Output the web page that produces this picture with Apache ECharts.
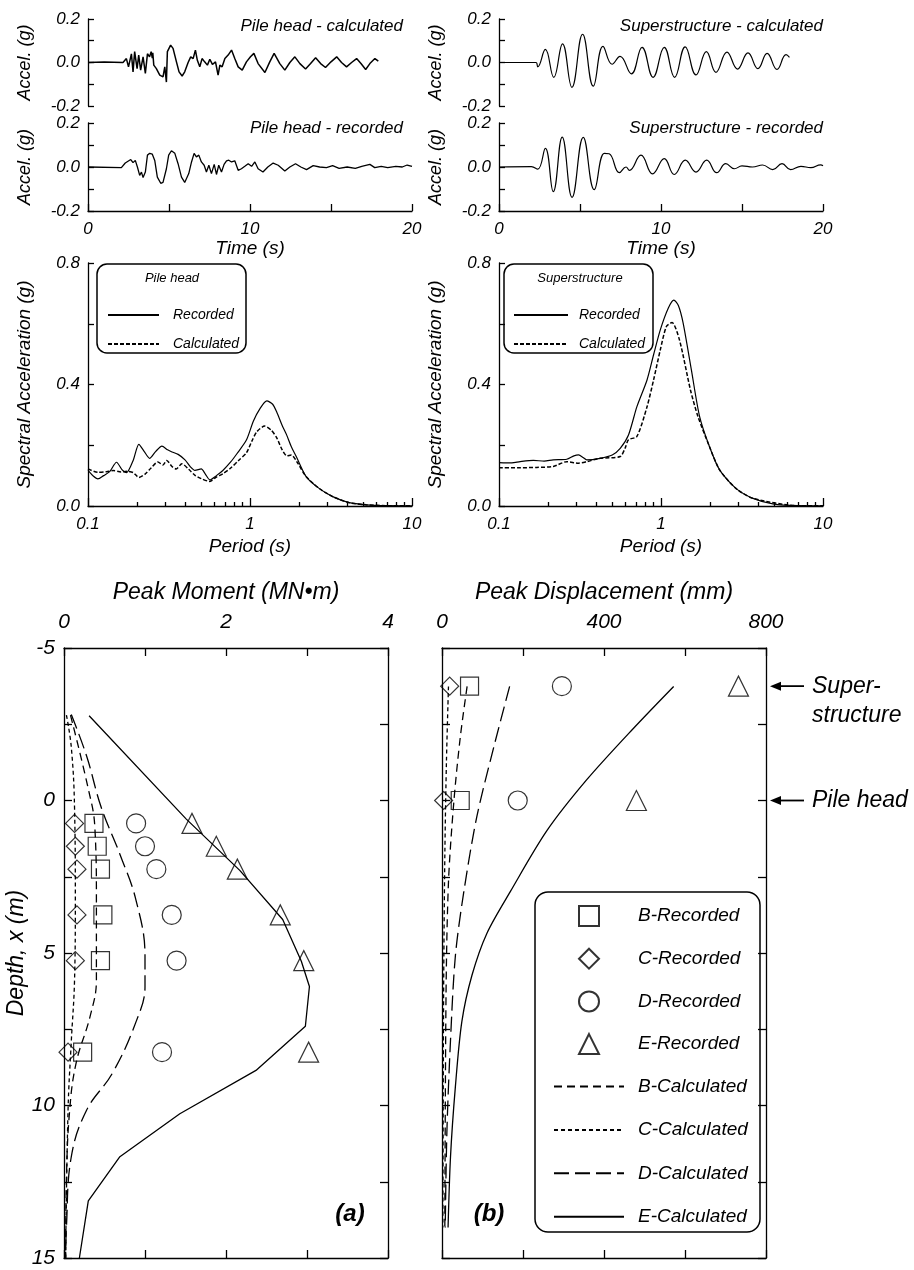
<!DOCTYPE html>
<html>
<head>
<meta charset="utf-8">
<script src="https://cdn.jsdelivr.net/npm/echarts@6/dist/echarts.min.js"></script>
<style>
html, body { margin: 0; padding: 0; background: #fff; }
#main { width: 914px; height: 1270px; }
</style>
</head>
<body>
<div id="main"></div>
<script>
/* acceleration time histories: [time (s), accel (g)] */
var pileCalc = [[0,0],[1,0.002],[2.16,0],[2.37,0.018],[2.5,-0.02],[2.68,0.04],[2.78,-0.043],[2.88,0.05],[3.03,-0.028],[3.13,0.034],[3.25,-0.035],[3.4,0.026],[3.54,-0.05],[3.67,0.04],[3.8,0.026],[3.9,0.05],[3.97,0.02],[4.0,0.045],[4.06,-0.012],[4.22,-0.028],[4.43,-0.058],[4.63,-0.066],[4.74,-0.02],[4.84,-0.09],[4.9,0.05],[5.1,0.08],[5.25,0.065],[5.46,0.003],[5.62,-0.043],[5.81,-0.062],[5.97,-0.043],[6.18,0],[6.34,0.026],[6.49,0.018],[6.63,0.057],[6.75,0.01],[6.9,-0.02],[7.04,0.018],[7.2,0.003],[7.37,-0.012],[7.52,0.015],[7.68,-0.009],[7.87,0.003],[8.03,-0.058],[8.14,-0.012],[8.28,-0.02],[8.45,0.018],[8.65,0.034],[8.86,0.057],[9.06,0.018],[9.27,-0.02],[9.52,-0.035],[9.78,0.003],[10.03,0.026],[10.24,0.042],[10.5,-0.005],[10.92,-0.046],[11.22,0.003],[11.49,0.042],[11.84,-0.005],[12.15,-0.035],[12.46,0],[12.77,0.026],[13.08,-0.005],[13.43,-0.03],[13.74,-0.005],[14.05,0.022],[14.36,-0.005],[14.66,-0.023],[15.0,0.003],[15.35,0.026],[15.65,0],[15.96,-0.02],[16.27,0],[16.58,0.018],[16.85,-0.005],[17.14,-0.032],[17.4,-0.005],[17.71,0.018],[17.92,0.006]];
var pileRec = [[0,0],[2.06,-0.003],[2.3,0.018],[2.47,0.026],[2.64,0.034],[2.78,0.02],[2.92,0.03],[3.05,0],[3.19,-0.038],[3.3,-0.023],[3.4,-0.048],[3.54,-0.023],[3.67,0.054],[3.81,0.062],[3.97,0.058],[4.12,0.03],[4.28,-0.046],[4.49,-0.074],[4.63,-0.07],[4.84,-0.008],[4.98,0.054],[5.15,0.074],[5.36,0.062],[5.56,0.015],[5.77,-0.046],[5.97,-0.07],[6.08,-0.077],[6.22,-0.03],[6.39,0.023],[6.55,0.062],[6.69,0.046],[6.84,0.054],[7.0,0.023],[7.17,0.008],[7.31,-0.023],[7.46,0.008],[7.62,-0.03],[7.79,0.012],[7.93,-0.034],[8.07,0.008],[8.24,-0.023],[8.4,0.012],[8.55,0.028],[8.69,0.031],[8.86,0.023],[9.06,0.028],[9.27,-0.015],[9.47,-0.008],[9.68,0.003],[9.89,0.015],[10.1,0.003],[10.3,0.023],[10.5,-0.008],[10.8,-0.023],[11.1,0],[11.43,0.018],[11.74,0.008],[12.15,-0.018],[12.46,0],[12.81,0.015],[13.14,0],[13.49,-0.012],[13.9,0.006],[14.3,0],[14.72,-0.003],[15.1,0.006],[15.5,-0.006],[16.0,0],[16.5,-0.006],[16.9,0.003],[17.4,0.012],[17.7,-0.003],[18.1,0.003],[18.5,-0.003],[19.0,0.003],[19.4,0],[19.7,0.009],[20,0.003]];
var supCalc = [[0,0],[2.28,0],[2.39,-0.02],[2.86,0.06],[3.38,-0.068],[3.92,0.086],[4.5,-0.114],[5.16,0.13],[5.82,-0.109],[6.42,0.074],[6.98,-0.008],[7.47,0.028],[8.17,-0.052],[8.83,0.07],[9.51,-0.068],[10.2,0.07],[10.84,-0.068],[11.49,0.072],[12.16,-0.057],[12.8,0.05],[13.39,-0.045],[14.07,0.048],[14.72,-0.03],[15.37,0.044],[15.98,-0.028],[16.55,0.042],[17.16,-0.032],[17.72,0.036],[17.93,0.024]];
var supRec = [[0,0],[2.0,0.002],[2.39,-0.01],[2.86,0.085],[3.35,-0.112],[3.9,0.136],[4.51,-0.138],[5.2,0.135],[5.88,-0.103],[6.5,0.062],[6.8,0.06],[7.43,-0.026],[7.84,0],[8.05,-0.015],[8.76,0.054],[9.48,-0.031],[10.2,0.038],[10.82,-0.034],[11.5,0.031],[12.16,-0.023],[12.82,0.031],[13.44,-0.026],[14.0,0.015],[14.53,-0.008],[15.0,0.005],[15.65,0],[16.27,0.009],[16.9,-0.012],[17.47,0.015],[18.0,-0.012],[18.64,0.003],[19.25,-0.003],[19.86,0.01],[20,0.006]];

/* response spectra: [period (s), Sa (g)] */
var specPileRec = [[0.1,0.117],[0.107,0.1],[0.115,0.089],[0.125,0.1],[0.136,0.113],[0.15,0.144],[0.162,0.12],[0.173,0.11],[0.19,0.15],[0.206,0.203],[0.222,0.18],[0.24,0.157],[0.262,0.18],[0.286,0.197],[0.31,0.185],[0.33,0.178],[0.36,0.17],[0.397,0.152],[0.43,0.128],[0.457,0.117],[0.5,0.122],[0.53,0.105],[0.565,0.086],[0.62,0.1],[0.68,0.117],[0.76,0.145],[0.83,0.172],[0.95,0.217],[1.05,0.28],[1.15,0.32],[1.27,0.346],[1.38,0.335],[1.46,0.31],[1.58,0.265],[1.68,0.235],[1.8,0.195],[1.93,0.163],[2.22,0.097],[2.67,0.058],[3.24,0.031],[4.1,0.011],[5.2,0.004],[7,0.001],[10,0.0005]];
var specPileCalc = [[0.1,0.122],[0.115,0.111],[0.13,0.113],[0.143,0.117],[0.16,0.112],[0.173,0.114],[0.19,0.11],[0.206,0.094],[0.225,0.105],[0.245,0.125],[0.27,0.145],[0.29,0.135],[0.306,0.15],[0.33,0.13],[0.35,0.122],[0.38,0.139],[0.42,0.12],[0.46,0.1],[0.5,0.09],[0.565,0.081],[0.62,0.095],[0.68,0.106],[0.76,0.125],[0.85,0.15],[0.95,0.175],[1.03,0.215],[1.1,0.244],[1.23,0.263],[1.35,0.25],[1.46,0.225],[1.58,0.185],[1.69,0.165],[1.8,0.168],[1.95,0.145],[2.22,0.097],[2.67,0.058],[3.24,0.031],[4.1,0.011],[5.2,0.004],[7,0.001],[10,0.0005]];
var specSupRec = [[0.1,0.143],[0.12,0.142],[0.135,0.146],[0.163,0.15],[0.19,0.148],[0.216,0.152],[0.262,0.154],[0.29,0.165],[0.31,0.168],[0.33,0.16],[0.348,0.152],[0.42,0.157],[0.5,0.168],[0.56,0.19],[0.63,0.234],[0.71,0.327],[0.82,0.415],[0.9,0.498],[0.99,0.58],[1.11,0.652],[1.2,0.678],[1.28,0.66],[1.37,0.602],[1.54,0.448],[1.73,0.295],[1.99,0.196],[2.3,0.119],[2.9,0.058],[3.7,0.025],[4.9,0.007],[7,0.001],[10,0.0005]];
var specSupCalc = [[0.1,0.126],[0.135,0.126],[0.171,0.127],[0.216,0.13],[0.262,0.146],[0.31,0.141],[0.348,0.146],[0.42,0.157],[0.56,0.163],[0.6,0.19],[0.63,0.218],[0.71,0.229],[0.82,0.327],[0.9,0.415],[0.99,0.514],[1.08,0.591],[1.17,0.604],[1.3,0.547],[1.52,0.382],[1.69,0.295],[1.99,0.196],[2.3,0.119],[2.9,0.058],[3.7,0.025],[7,0.001],[10,0.0005]];

/* peak moment (MN.m) at the recorded depths (m) */
var recDepth = [0.75, 1.5, 2.25, 3.75, 5.25, 8.25];
var momB = [0.37, 0.41, 0.45, 0.48, 0.45, 0.23];
var momC = [0.13, 0.14, 0.16, 0.16, 0.14, 0.05];
var momD = [0.89, 1.0, 1.14, 1.33, 1.39, 1.21];
var momE = [1.58, 1.88, 2.14, 2.67, 2.96, 3.02];
/* calculated moment: [moment, depth] */
var calcMomB = [[0.08,-2.8],[0.3,-0.38],[0.38,0.84],[0.4,3.28],[0.4,5.9],[0.32,7.1],[0.15,8.6],[0.07,10.15],[0.03,12.4],[0.02,15]];
var calcMomC = [[0.03,-2.8],[0.09,-1.75],[0.13,0.23],[0.14,3.3],[0.13,5.9],[0.09,7.9],[0.05,10.15],[0.02,15]];
var calcMomD = [[0.09,-2.82],[0.28,-1.45],[0.46,0.23],[0.69,1.76],[0.89,3.28],[1.0,5.1],[1.0,6.1],[0.89,7.25],[0.6,8.93],[0.28,10.15],[0.09,11.68],[0.03,13.97],[0.02,15]];
var calcMomE = [[0.31,-2.78],[1.51,0.61],[2.17,2.29],[2.7,3.9],[2.93,5.27],[3.03,6.1],[2.98,7.4],[2.37,8.85],[1.43,10.27],[0.69,11.68],[0.3,13.13],[0.19,15]];

/* peak displacement (mm): superstructure and pile head */
var dispDepth = [-3.75, 0];
var dispB = [68, 45];
var dispC = [19, 4];
var dispD = [296, 187];
var dispE = [732, 480];
var calcDispB = [[62,-3.74],[45,-2.06],[29,0.08],[16,2.67],[10,6.3],[7,14]];
var calcDispC = [[16,-3.74],[11,-1.3],[7,1.8],[4,6.3],[2,14]];
var calcDispD = [[167,-3.74],[128,-1.76],[86,0.53],[54,2.98],[33,5.1],[21,7.86],[12,10.9],[8,14]];
var calcDispE = [[572,-3.74],[473,-2.37],[358,-0.69],[259,0.99],[169,2.98],[111,4.35],[74,5.73],[49,7.25],[33,9.39],[21,11.68],[15,14]];

var FONT = 'Liberation Sans';
function ts(size, weight) {
	return { fontFamily: FONT, fontStyle: 'italic', fontWeight: weight || 'normal', fontSize: size, color: '#000' };
}
function fnt(size, weight) {
	return 'italic ' + (weight || 'normal') + ' ' + size + 'px "' + FONT + '"';
}
function lbl(size, extra) {
	var o = ts(size);
	for (var k in extra) o[k] = extra[k];
	return o;
}
var LINE = { color: '#000', width: 1.3 };

function pairs(xs, ys) {
	var out = [];
	for (var i = 0; i < xs.length; i++) out.push([xs[i], ys[i]]);
	return out;
}

// axis builders
function hiddenX(g) {
	return { gridIndex: g, type: 'value', min: 0, max: 20, show: false };
}
function timeX(g) {
	return {
		gridIndex: g, type: 'value', min: 0, max: 20, interval: 5,
		axisLine: { onZero: false, lineStyle: LINE },
		axisTick: { inside: true, length: 7, lineStyle: LINE },
		axisLabel: lbl(17, { margin: 10, formatter: function (v) { return v % 10 === 0 ? v : ''; } }),
		splitLine: { show: false },
		name: 'Time (s)', nameLocation: 'middle', nameGap: 27, nameTextStyle: ts(19)
	};
}
function accelY(g) {
	return {
		gridIndex: g, type: 'value', min: -0.2, max: 0.2, interval: 0.2,
		axisLine: { onZero: false, lineStyle: LINE },
		axisTick: { inside: true, length: 6, lineStyle: LINE },
		minorTick: { show: true, splitNumber: 2, length: 6, lineStyle: LINE },
		axisLabel: lbl(17, { margin: 8, formatter: function (v) { return v.toFixed(1); } }),
		splitLine: { show: false }, minorSplitLine: { show: false },
		name: 'Accel. (g)', nameLocation: 'middle', nameGap: 54, nameRotate: 90, nameTextStyle: ts(18)
	};
}
function periodX(g) {
	return {
		gridIndex: g, type: 'log', logBase: 10, min: 0.1, max: 10,
		axisLine: { onZero: false, lineStyle: LINE },
		axisTick: { inside: true, length: 8, lineStyle: LINE, customValues: [0.1, 1, 10] },
		axisLabel: lbl(17, { margin: 10, customValues: [0.1, 1, 10], formatter: function (v) { return String(+v.toPrecision(3)); } }),
		splitLine: { show: false },
		name: 'Period (s)', nameLocation: 'middle', nameGap: 31, nameTextStyle: ts(19)
	};
}
function periodMinorX(g) {
	return {
		gridIndex: g, type: 'log', logBase: 10, min: 0.1, max: 10, position: 'bottom', offset: 0,
		axisLine: { show: false },
		axisTick: { inside: true, length: 4, lineStyle: LINE, customValues: [0.2, 0.3, 0.4, 0.5, 0.6, 0.7, 0.8, 0.9, 2, 3, 4, 5, 6, 7, 8, 9] },
		axisLabel: { show: false },
		splitLine: { show: false }
	};
}
function specY(g) {
	return {
		gridIndex: g, type: 'value', min: 0, max: 0.8, interval: 0.4,
		axisLine: { onZero: false, lineStyle: LINE },
		axisTick: { inside: true, length: 6, lineStyle: LINE },
		minorTick: { show: true, splitNumber: 2, length: 6, lineStyle: LINE },
		axisLabel: lbl(17, { margin: 8, formatter: function (v) { return v.toFixed(1); } }),
		splitLine: { show: false }, minorSplitLine: { show: false },
		name: 'Spectral Acceleration (g)', nameLocation: 'middle', nameGap: 54, nameRotate: 90, nameTextStyle: ts(19)
	};
}
function depthTopX(g, max, step, name) {
	return {
		gridIndex: g, type: 'value', position: 'top', min: 0, max: max, interval: step,
		axisLine: { onZero: false, lineStyle: LINE },
		axisTick: { inside: true, length: 8, lineStyle: LINE },
		axisLabel: lbl(21, { margin: 15, formatter: function (v) { return v % (2 * step) === 0 ? v : ''; } }),
		splitLine: { show: false },
		name: name, nameLocation: 'middle', nameGap: 44, nameTextStyle: ts(23)
	};
}
function depthBotX(g, max, step) {
	return {
		gridIndex: g, type: 'value', position: 'bottom', min: 0, max: max, interval: step,
		axisLine: { onZero: false, lineStyle: LINE },
		axisTick: { inside: true, length: 8, lineStyle: LINE },
		axisLabel: { show: false }, splitLine: { show: false }
	};
}
function depthY(g, pos, labels) {
	var a = {
		gridIndex: g, type: 'value', position: pos, inverse: true, min: -5, max: 15, interval: 2.5,
		axisLine: { onZero: false, lineStyle: LINE },
		axisTick: { inside: true, length: 8, lineStyle: LINE },
		axisLabel: lbl(21, { show: labels, margin: 9, formatter: function (v) { return v % 5 === 0 ? v : ''; } }),
		splitLine: { show: false }
	};
	if (labels) {
		a.name = 'Depth, x (m)'; a.nameLocation = 'middle'; a.nameGap = 33; a.nameRotate = 90; a.nameTextStyle = ts(23);
	}
	return a;
}

// series builders
function trace(xi, yi, data, smooth, w) {
	return { type: 'line', xAxisIndex: xi, yAxisIndex: yi, data: data, symbol: 'none', smooth: smooth || false,
		lineStyle: { color: '#000', width: w || 1.2 }, silent: true };
}
function specLine(name, xi, yi, data, dashed) {
	return { name: name, type: 'line', xAxisIndex: xi, yAxisIndex: yi, data: data, symbol: 'none', smooth: 0.25,
		lineStyle: { color: '#000', width: dashed ? 1.5 : 1.2, type: dashed ? [4, 2] : 'solid' }, itemStyle: { color: '#000' } };
}
var DASH = { B: [8, 5], C: [4, 3], D: [15, 6], E: 'solid' };
var SYM = { B: ['rect', 18], C: ['diamond', 18], D: ['circle', 19], E: ['triangle', 20] };
function calcLine(k, xi, yi, data, smooth) {
	return { name: k + '-Calculated', type: 'line', xAxisIndex: xi, yAxisIndex: yi, data: data, symbol: 'none', smooth: smooth,
		lineStyle: { color: '#000', width: 1.3, type: DASH[k] }, itemStyle: { color: '#000' } };
}
function recPts(k, xi, yi, data) {
	return { name: k + '-Recorded', type: 'scatter', xAxisIndex: xi, yAxisIndex: yi, data: data,
		symbol: SYM[k][0], symbolSize: SYM[k][1],
		itemStyle: { color: 'rgba(0,0,0,0)', borderColor: '#000', borderWidth: 1.2 } };
}
// legend entries for lines: hide the centre symbol, keep the dash pattern
function lineItem(name) {
	return { name: name, itemStyle: { color: 'rgba(0,0,0,0)', borderColor: 'rgba(0,0,0,0)', borderWidth: 0 } };
}

var grids = [
	{ left: 88, top: 19, width: 324, height: 87 },
	{ left: 88, top: 123, width: 324, height: 88 },
	{ left: 499, top: 19, width: 324, height: 87 },
	{ left: 499, top: 123, width: 324, height: 88 },
	{ left: 88, top: 263, width: 324, height: 243 },
	{ left: 499, top: 263, width: 324, height: 243 },
	{ left: 64, top: 648, width: 324, height: 610 },
	{ left: 442, top: 648, width: 324, height: 610 }
];

function legendTxt(size, pad) {
	return { fontFamily: FONT, fontStyle: 'italic', fontSize: size, lineHeight: size, color: '#000', padding: [0, 0, 0, pad] };
}

var option = {
	animation: false,
	backgroundColor: '#fff',
	grid: grids,
	xAxis: [
		hiddenX(0), timeX(1), hiddenX(2), timeX(3),
		periodX(4), periodMinorX(4), periodX(5), periodMinorX(5),
		depthTopX(6, 4, 1, 'Peak Moment (MN\u2022m)'), depthBotX(6, 4, 1),
		depthTopX(7, 800, 200, 'Peak Displacement (mm)'), depthBotX(7, 800, 200)
	],
	yAxis: [
		accelY(0), accelY(1), accelY(2), accelY(3),
		specY(4), specY(5),
		depthY(6, 'left', true), depthY(6, 'right', false),
		depthY(7, 'left', false), depthY(7, 'right', false)
	],
	legend: [
		{ data: [lineItem('Recorded'), lineItem('Calculated')], orient: 'vertical', left: 102, top: 303, itemWidth: 51, itemHeight: 14, itemGap: 15,
			selectedMode: false, textStyle: legendTxt(14, 9) },
		{ data: [lineItem('Recorded'), lineItem('Calculated')], orient: 'vertical', left: 508, top: 303, itemWidth: 54, itemHeight: 14, itemGap: 15,
			selectedMode: false, textStyle: legendTxt(14, 6) },
		{ data: ['B-Recorded', 'C-Recorded', 'D-Recorded', 'E-Recorded'],
			orient: 'vertical', left: 573, top: 900, itemWidth: 20, itemHeight: 20, itemGap: 20.7,
			selectedMode: false, textStyle: legendTxt(19, 34) },
		{ data: [lineItem('B-Calculated'), lineItem('C-Calculated'), lineItem('D-Calculated'), lineItem('E-Calculated')],
			orient: 'vertical', left: 548, top: 1072, itemWidth: 70, itemHeight: 20, itemGap: 24.4,
			selectedMode: false, textStyle: legendTxt(19, 9) }
	],
	series: [
		trace(0, 0, pileCalc, false, 1.5),
		trace(1, 1, pileRec, false, 1.3),
		trace(2, 2, supCalc, 0.45, 1.2),
		trace(3, 3, supRec, 0.45, 1.2),
		specLine('Recorded', 4, 4, specPileRec, false),
		specLine('Calculated', 4, 4, specPileCalc, true),
		specLine('Recorded', 6, 5, specSupRec, false),
		specLine('Calculated', 6, 5, specSupCalc, true),
		recPts('B', 8, 6, pairs(momB, recDepth)),
		recPts('C', 8, 6, pairs(momC, recDepth)),
		recPts('D', 8, 6, pairs(momD, recDepth)),
		recPts('E', 8, 6, pairs(momE, recDepth)),
		calcLine('B', 8, 6, calcMomB, 0.4),
		calcLine('C', 8, 6, calcMomC, 0.4),
		calcLine('D', 8, 6, calcMomD, 0.4),
		calcLine('E', 8, 6, calcMomE, false),
		recPts('B', 10, 8, pairs(dispB, dispDepth)),
		recPts('C', 10, 8, pairs(dispC, dispDepth)),
		recPts('D', 10, 8, pairs(dispD, dispDepth)),
		recPts('E', 10, 8, pairs(dispE, dispDepth)),
		calcLine('B', 10, 8, calcDispB, 0.3),
		calcLine('C', 10, 8, calcDispC, 0.3),
		calcLine('D', 10, 8, calcDispD, 0.3),
		calcLine('E', 10, 8, calcDispE, 0.3)
	]
};

var chart = echarts.init(document.getElementById('main'), null, { renderer: 'canvas' });
chart.setOption(option);

// annotations: panel titles, legend boxes, arrows
function txt(x, y, s, size, align, weight) {
	return { type: 'text', x: x, y: y, silent: true,
		style: { text: s, fill: '#000', font: fnt(size, weight), align: align || 'left', verticalAlign: 'middle' } };
}
function box(x, y, w, h, r) {
	return { type: 'rect', silent: true, shape: { x: x, y: y, width: w, height: h, r: r },
		style: { fill: 'none', stroke: '#000', lineWidth: 1.5 } };
}
var g = [
	txt(403, 26, 'Pile head - calculated', 17, 'right'),
	txt(403, 128, 'Pile head - recorded', 17, 'right'),
	txt(823, 26, 'Superstructure - calculated', 17, 'right'),
	txt(823, 128, 'Superstructure - recorded', 17, 'right'),
	box(97, 264, 149, 89, 10),
	txt(172, 278, 'Pile head', 13, 'center'),
	box(504, 264, 149, 89, 10),
	txt(580, 278, 'Superstructure', 13, 'center'),
	box(535, 892, 225, 340, 13),
	txt(350, 1214, '(a)', 24, 'center', 'bold'),
	txt(489, 1214, '(b)', 24, 'center', 'bold')
];
function arrow(depth, lines) {
	var p = chart.convertToPixel({ xAxisIndex: 10, yAxisIndex: 8 }, [800, depth]);
	var tip = p[0] + 4, y = p[1];
	g.push({ type: 'line', silent: true, shape: { x1: tip + 8, y1: y, x2: tip + 34, y2: y }, style: { stroke: '#000', lineWidth: 1.8 } });
	g.push({ type: 'polygon', silent: true, shape: { points: [[tip, y], [tip + 11, y - 4.5], [tip + 11, y + 4.5]] }, style: { fill: '#000' } });
	for (var i = 0; i < lines.length; i++) g.push(txt(tip + 42, y + i * 29, lines[i], 23));
}
arrow(dispDepth[0], ['Super-', 'structure']);
arrow(dispDepth[1], ['Pile head']);
chart.setOption({ graphic: g });
</script>
</body>
</html>
